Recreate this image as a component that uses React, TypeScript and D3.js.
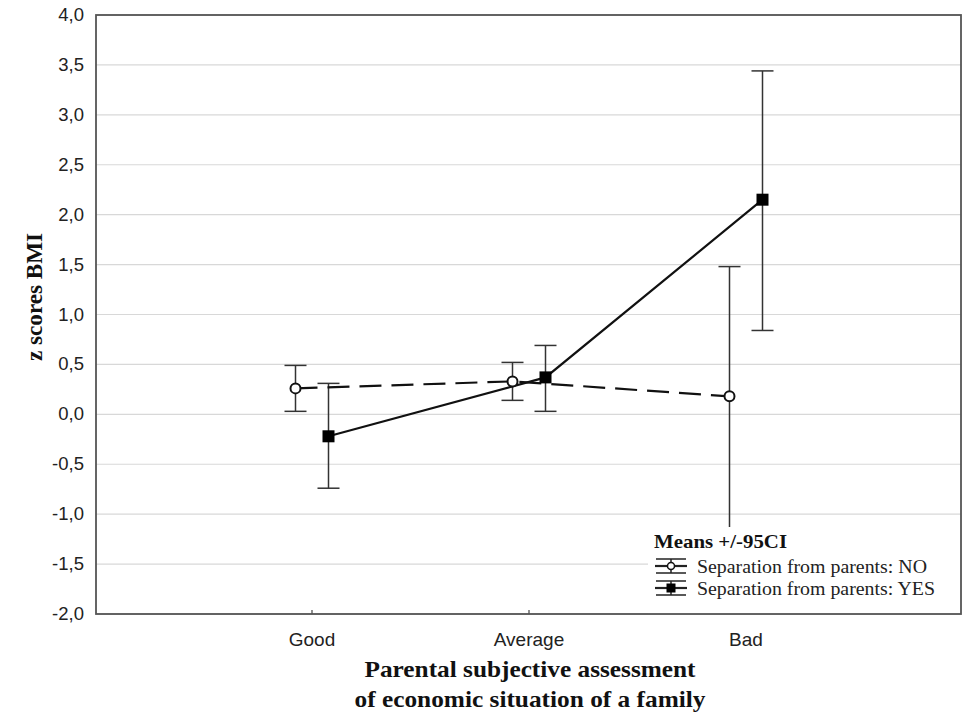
import React from "react";
import * as d3 from "d3";

const categories = ["Good", "Average", "Bad"];
const yTicks = [-2, -1.5, -1, -0.5, 0, 0.5, 1, 1.5, 2, 2.5, 3, 3.5, 4];

const noMean = [0.26, 0.33, 0.18];
const noLower = [0.03, 0.14, -1.25];
const noUpper = [0.49, 0.52, 1.48];

const yesMean = [-0.22, 0.37, 2.15];
const yesLower = [-0.74, 0.03, 0.84];
const yesUpper = [0.31, 0.69, 3.44];

const W = 964, H = 715;
const left = 96, right = 961, top = 15, bottom = 614;

export default function App() {
  const x = d3.scalePoint<string>().domain(categories).range([312, 746]);
  const y = d3.scaleLinear().domain([-2, 4]).range([bottom, top]);
  const off = 16.5;
  const cap = 11;
  const fmt = (v: number) => d3.format(".1f")(v).replace(".", ",").replace("−", "-");

  const series = [
    { name: "NO", mean: noMean, lo: noLower, hi: noUpper, dx: -off, dash: "22,10", len: 230 },
    { name: "YES", mean: yesMean, lo: yesLower, hi: yesUpper, dx: off, dash: "", len: 238 },
  ];

  const line = (s: typeof series[0]) =>
    d3.line<number>().x((_, i) => (x(categories[i]) as number) + s.dx).y((v) => y(v))(s.mean) || "";

  const serif = "'Liberation Serif', 'Times New Roman', serif";
  const sans = "'Liberation Sans', Arial, sans-serif";

  return (
    <svg width={W} height={H} style={{ position: "absolute", left: 0, top: 0, background: "#fff" }}>
      <rect x={0} y={0} width={W} height={H} fill="#fff" />
      {yTicks.map((t) => (
        <line key={"g" + t} x1={left} x2={right} y1={y(t)} y2={y(t)} stroke="#d8d8d8" strokeWidth={1.2} />
      ))}
      {yTicks.map((t) => (
        <text key={"t" + t} x={84} y={y(t) + 6} textAnchor="end" fontFamily={sans} fontSize={18.5} fill="#222">
          {fmt(t)}
        </text>
      ))}
      {categories.map((c) => (
        <g key={c}>
          <line x1={x(c)} x2={x(c)} y1={bottom} y2={bottom - 4} stroke="#444" strokeWidth={1.2} />
          <text x={x(c)} y={bottom + 32} textAnchor="middle" fontFamily={sans} fontSize={19} fill="#222">
            {c}
          </text>
        </g>
      ))}
      {series.map((s) =>
        s.mean.map((m, i) => {
          const cx = (x(categories[i]) as number) + s.dx;
          return (
            <g key={s.name + i} stroke="#333" strokeWidth={1.5}>
              <line x1={cx} x2={cx} y1={y(s.lo[i])} y2={y(s.hi[i])} />
              <line x1={cx - cap} x2={cx + cap} y1={y(s.hi[i])} y2={y(s.hi[i])} />
              <line x1={cx - cap} x2={cx + cap} y1={y(s.lo[i])} y2={y(s.lo[i])} />
            </g>
          );
        })
      )}
      {series.map((s) => (
        <path key={"l" + s.name} d={line(s)} fill="none" stroke="#111" strokeWidth={2.2} strokeDasharray={s.dash || undefined} />
      ))}
      {noMean.map((m, i) => (
        <circle key={"c" + i} cx={(x(categories[i]) as number) - off} cy={y(m)} r={5} fill="#fff" stroke="#111" strokeWidth={2} />
      ))}
      {yesMean.map((m, i) => (
        <rect key={"s" + i} x={(x(categories[i]) as number) + off - 6} y={y(m) - 6} width={12} height={12} fill="#000" />
      ))}
      {/* legend */}
      <rect x={648} y={527} width={right - 648} height={bottom - 527} fill="#fff" />
      <text x={654} y={548} fontFamily={serif} fontWeight="bold" fontSize={19} fill="#111" textLength={133} lengthAdjust="spacingAndGlyphs">Means +/-95CI</text>
      {series.map((s, i) => {
        const cy = 566 + i * 22;
        const cx = 671;
        return (
          <g key={"lg" + s.name}>
            <g stroke="#222" strokeWidth={1.5}>
              <line x1={cx - 15} x2={cx + 15} y1={cy - 7} y2={cy - 7} />
              <line x1={cx - 15} x2={cx + 15} y1={cy + 7} y2={cy + 7} />
              <line x1={cx} x2={cx} y1={cy - 7} y2={cy + 7} />
              <line x1={cx - 16} x2={cx + 16} y1={cy} y2={cy} strokeWidth={2.2} />
            </g>
            {s.name === "NO" ? (
              <circle cx={cx} cy={cy} r={3.5} fill="#fff" stroke="#111" strokeWidth={1.5} />
            ) : (
              <rect x={cx - 4.5} y={cy - 4.5} width={9} height={9} fill="#000" />
            )}
            <text x={697} y={cy + 7} fontFamily={serif} fontSize={19} fill="#222" textLength={s.len} lengthAdjust="spacingAndGlyphs">
              {"Separation from parents: " + s.name}
            </text>
          </g>
        );
      })}
      {/* frame */}
      <rect x={left} y={top} width={right - left} height={bottom - top} fill="none" stroke="#555" strokeWidth={1.8} />
      <text x={530} y={677} textAnchor="middle" fontFamily={serif} fontWeight="bold" fontSize={23} fill="#111" textLength={331} lengthAdjust="spacingAndGlyphs">
        Parental subjective assessment
      </text>
      <text x={530} y={707} textAnchor="middle" fontFamily={serif} fontWeight="bold" fontSize={23} fill="#111" textLength={351} lengthAdjust="spacingAndGlyphs">
        of economic situation of a family
      </text>
      <text transform="translate(42,297) rotate(-90)" textAnchor="middle" fontFamily={serif} fontWeight="bold" fontSize={23} fill="#111" textLength={128} lengthAdjust="spacingAndGlyphs">
        z scores BMI
      </text>
    </svg>
  );
}
